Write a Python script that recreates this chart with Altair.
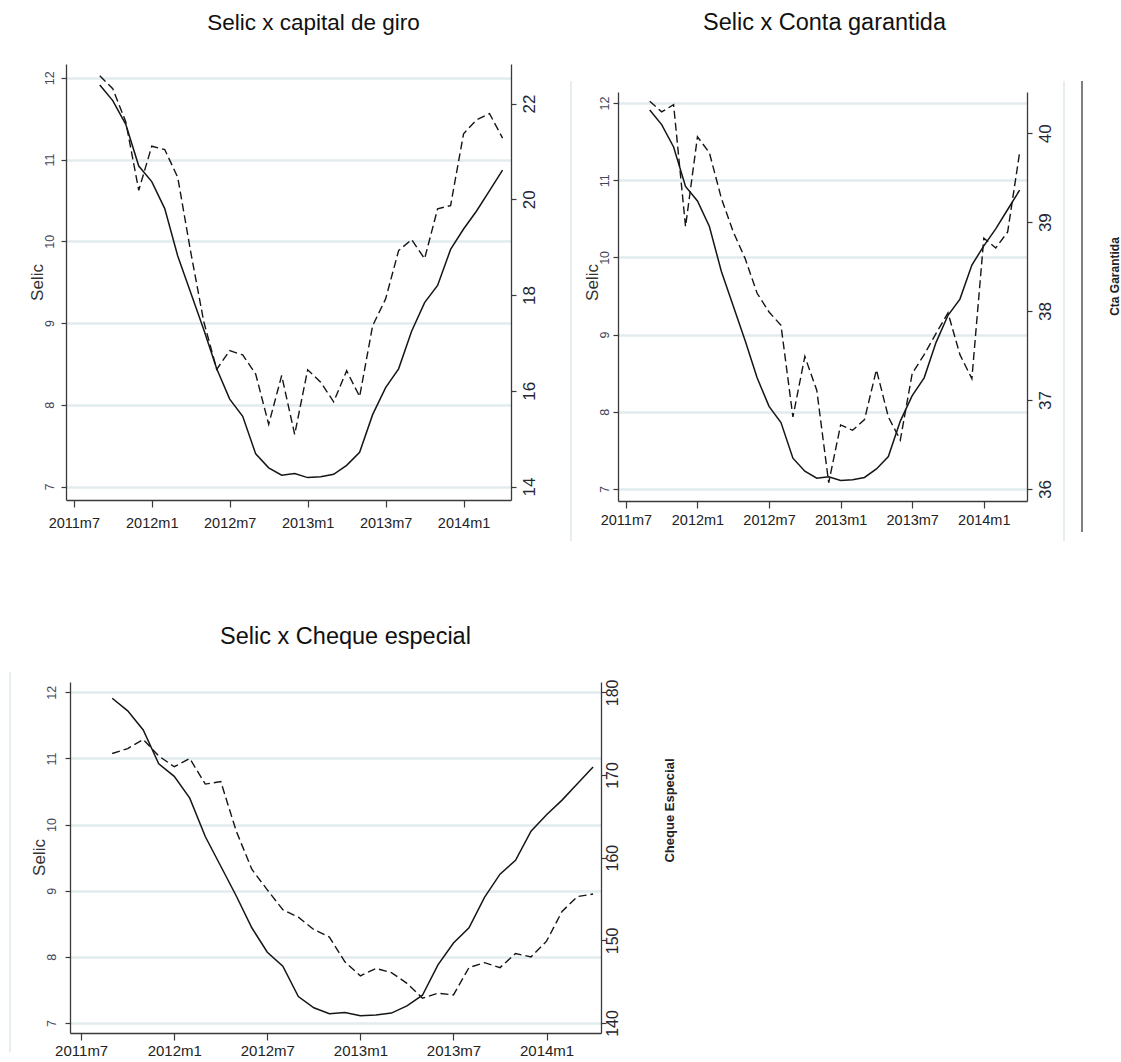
import json
import altair as alt
import pandas as pd

# ---------------- data ----------------
periods = ["2011m9", "2011m10", "2011m11", "2011m12",
           "2012m1", "2012m2", "2012m3", "2012m4", "2012m5", "2012m6",
           "2012m7", "2012m8", "2012m9", "2012m10", "2012m11", "2012m12",
           "2013m1", "2013m2", "2013m3", "2013m4", "2013m5", "2013m6",
           "2013m7", "2013m8", "2013m9", "2013m10", "2013m11", "2013m12",
           "2014m1", "2014m2", "2014m3", "2014m4"]

selic = [11.91, 11.72, 11.43, 10.92, 10.73, 10.40, 9.82, 9.37, 8.92, 8.44,
         8.07, 7.86, 7.40, 7.23, 7.14, 7.16, 7.11, 7.12, 7.15, 7.26,
         7.42, 7.88, 8.21, 8.44, 8.90, 9.25, 9.46, 9.90, 10.15, 10.37,
         10.62, 10.87]

capital_giro = [22.58, 22.31, 21.62, 20.19, 21.11, 21.04, 20.46, 18.90, 17.45, 16.45,
                16.84, 16.75, 16.35, 15.30, 16.32, 15.09, 16.44, 16.18, 15.77, 16.42,
                15.88, 17.36, 17.92, 18.93, 19.16, 18.76, 19.80, 19.87, 21.37, 21.66,
                21.79, 21.28]

conta_garantida = [40.36, 40.24, 40.32, 38.95, 39.96, 39.78, 39.27, 38.89, 38.59, 38.20,
                   37.99, 37.84, 36.81, 37.49, 37.11, 36.07, 36.72, 36.66, 36.78, 37.34,
                   36.81, 36.55, 37.30, 37.51, 37.75, 37.98, 37.51, 37.24, 38.82, 38.71,
                   38.89, 39.78]

cheque_especial = [172.6, 173.2, 174.3, 172.3, 171.0, 172.0, 168.9, 169.2, 163.2, 158.6,
                   156.1, 153.7, 152.8, 151.3, 150.4, 147.4, 145.7, 146.6, 146.1, 144.8,
                   143.0, 143.6, 143.4, 146.7, 147.3, 146.7, 148.4, 148.0, 149.9, 153.5,
                   155.3, 155.6]

x_tick_labels = ["2011m7", "2012m1", "2012m7", "2013m1", "2013m7", "2014m1"]
selic_ticks = [7, 8, 9, 10, 11, 12]
giro_ticks = [14, 16, 18, 20, 22]
garantida_ticks = [36, 37, 38, 39, 40]
cheque_ticks = [140, 150, 160, 170, 180]
panel_titles = ["Selic x capital de giro", "Selic x Conta garantida", "Selic x Cheque especial"]
left_title = "Selic"
right_titles = ["", "Cta Garantida", "Cheque Especial"]


def month_index(p):
    y, m = p.split("m")
    return (int(y) - 2011) * 12 + int(m) - 7


idx = [month_index(p) for p in periods]
tick_values = [month_index(p) for p in x_tick_labels]
label_expr = "%s[indexof(%s, datum.value)]" % (json.dumps(x_tick_labels), json.dumps(tick_values))

FONT = "Liberation Sans"
AXIS = "#3a3a3a"
GRID = "#e2ebee"
FAINT = "#e6eef1"


def vrule(xv, y1, y2, color, width):
    return alt.Chart(pd.DataFrame({"k": [0]})).mark_rule(color=color, strokeWidth=width).encode(
        x=alt.value(xv), y=alt.value(y1), y2=alt.value(y2))


def make_panel(cfg, rate_values, rate_ticks, title_text, right_title):
    df = pd.DataFrame({"idx": idx, "selic": selic, "rate": rate_values})

    xs = dict(domain=cfg["x_domain"], nice=False, zero=False)
    if "x_range" in cfg:
        xs["range"] = cfg["x_range"]
    yl = dict(domain=cfg["l_domain"], nice=False, zero=False)
    yr = dict(domain=cfg["r_domain"], nice=False, zero=False)
    if "y_range" in cfg:
        yl["range"] = cfg["y_range"]
        yr["range"] = cfg["y_range"]

    x_axis = alt.Axis(values=tick_values, labelExpr=label_expr, title="", grid=False,
                      domainColor=AXIS, domainWidth=1.3, tickColor=AXIS, tickWidth=1.2,
                      tickSize=cfg["xtick"], labelFont=FONT, labelFontSize=cfg["xsize"],
                      labelColor="#222222", labelPadding=cfg["xpad"], labelBaseline="top",
                      labelAlign="center", labelAngle=0, labelFlush=False, labelOverlap=False)
    # top axis only carries the panel title
    top_axis = alt.Axis(orient="top", domain=False, ticks=False, labels=False, grid=False,
                        title=title_text, titleFont=FONT, titleFontSize=cfg["tsize"],
                        titleFontWeight="normal", titleColor="#111111", titleAngle=0,
                        titleAlign="center", titleBaseline="alphabetic",
                        titleX=cfg["ttx"], titleY=cfg["tty"])

    left_axis = alt.Axis(values=selic_ticks, orient="left", grid=True, gridColor=GRID, gridWidth=2.5,
                         domainColor=AXIS, domainWidth=1.3, tickColor=AXIS, tickWidth=1.2, tickSize=5,
                         labelAngle=270, labelAlign="center", labelBaseline="alphabetic",
                         labelPadding=cfg["lpad"], labelFontSize=12.5, labelColor="#45455a", labelFont=FONT,
                         offset=cfg["loffset"], title=left_title, titleFont=FONT, titleFontSize=17,
                         titleFontWeight="normal", titleColor="#333333", titleAngle=270,
                         titleAlign="center", titleBaseline="alphabetic",
                         titleX=cfg["ltx"], titleY=cfg["lty"])

    r_kwargs = dict(values=rate_ticks, orient="right", grid=False,
                    domainColor=AXIS, domainWidth=1.3, tickColor=AXIS, tickWidth=1.2, tickSize=5,
                    labelAngle=270, labelAlign="center", labelBaseline="alphabetic",
                    labelPadding=cfg["rpad"], labelFontSize=cfg["rsize"], labelColor="#262630",
                    labelFont=FONT, offset=cfg["roffset"], title=right_title)
    if right_title:
        r_kwargs.update(titleFont=FONT, titleFontSize=cfg["rtsize"], titleFontWeight="bold",
                        titleColor="#222222", titleAngle=270, titleAlign="center",
                        titleBaseline="alphabetic", titleX=cfg["rtx"], titleY=cfg["rty"])
    right_axis = alt.Axis(**r_kwargs)

    selic_line = alt.Chart(df).mark_line(color="#151515", strokeWidth=1.5).encode(
        x=alt.X("idx:Q", scale=alt.Scale(**xs), axis=x_axis),
        y=alt.Y("selic:Q", scale=alt.Scale(**yl), axis=left_axis),
    )
    rate_line = alt.Chart(df).mark_line(color="#151515", strokeWidth=1.4, strokeDash=[8, 4]).encode(
        x=alt.X("idx:Q", scale=alt.Scale(**xs), axis=top_axis),
        y=alt.Y("rate:Q", scale=alt.Scale(**yr), axis=right_axis),
    )
    layers = [selic_line, rate_line] + [vrule(*r) for r in cfg.get("rules", [])]

    return alt.layer(*layers).resolve_scale(y="independent").resolve_axis(x="independent").properties(
        width=cfg["width"], height=cfg["height"],
        view=alt.ViewBackground(stroke="transparent", strokeWidth=0, strokeOpacity=0))


# panel 1: view x 65..510, y 65..501
cfg1 = dict(width=445, height=436, x_domain=[-0.60, 33.65],
            l_domain=[6.836, 12.168], r_domain=[13.72, 22.827],
            xtick=7, xsize=14.5, xpad=9,
            lpad=8, loffset=0, ltx=-23.3, lty=218,
            rpad=18, rsize=17, roffset=0,
            tsize=22.5, ttx=247, tty=-35)

# panel 2: view x 617..1026, y 65..502 (plot drawn from 93)
cfg2 = dict(width=409, height=437, x_domain=[-0.66, 33.62], y_range=[437, 28],
            l_domain=[6.845, 12.142], r_domain=[35.865, 40.463],
            xtick=7, xsize=14.5, xpad=5,
            lpad=4.5, loffset=0, ltx=-21, lty=218,
            rpad=18, rsize=17, roffset=0, rtsize=12, rtx=91, rty=212,
            tsize=23.5, ttx=206, tty=-35,
            rules=[(-47, 17, 477, FAINT, 2), (446, 17, 477, FAINT, 2), (464, 17, 468, "#555555", 1.5)])

# panel 3: view x 65..510 (plot drawn 69..600), y 682..1033
cfg3 = dict(width=445, height=351, x_domain=[-0.72, 33.51], x_range=[4, 535],
            l_domain=[6.849, 12.156], r_domain=[138.79, 181.25],
            xtick=7, xsize=15, xpad=3,
            lpad=10, loffset=-4, ltx=-26, lty=175,
            rpad=11.7, rsize=16, roffset=90, rtsize=13, rtx=72.7, rty=128,
            tsize=23.5, ttx=279, tty=-39,
            rules=[(-56, -10, 370, FAINT, 2)])

p1 = make_panel(cfg1, capital_giro, giro_ticks, panel_titles[0], right_titles[0])
p2 = make_panel(cfg2, conta_garantida, garantida_ticks, panel_titles[1], right_titles[1])
p3 = make_panel(cfg3, cheque_especial, cheque_ticks, panel_titles[2], right_titles[2])

chart = alt.concat(
    p1, p2, p3, columns=2,
    spacing=alt.RowColnumber(row=181, column=107),
    bounds="flush", align="none", center=False,
    padding={"left": 9, "top": 10, "right": 0, "bottom": 0},
    background="white",
).configure_view(stroke="transparent", strokeWidth=0, strokeOpacity=0).configure(font=FONT)

chart.save("out.html", embed_options={"renderer": "svg", "actions": False})
